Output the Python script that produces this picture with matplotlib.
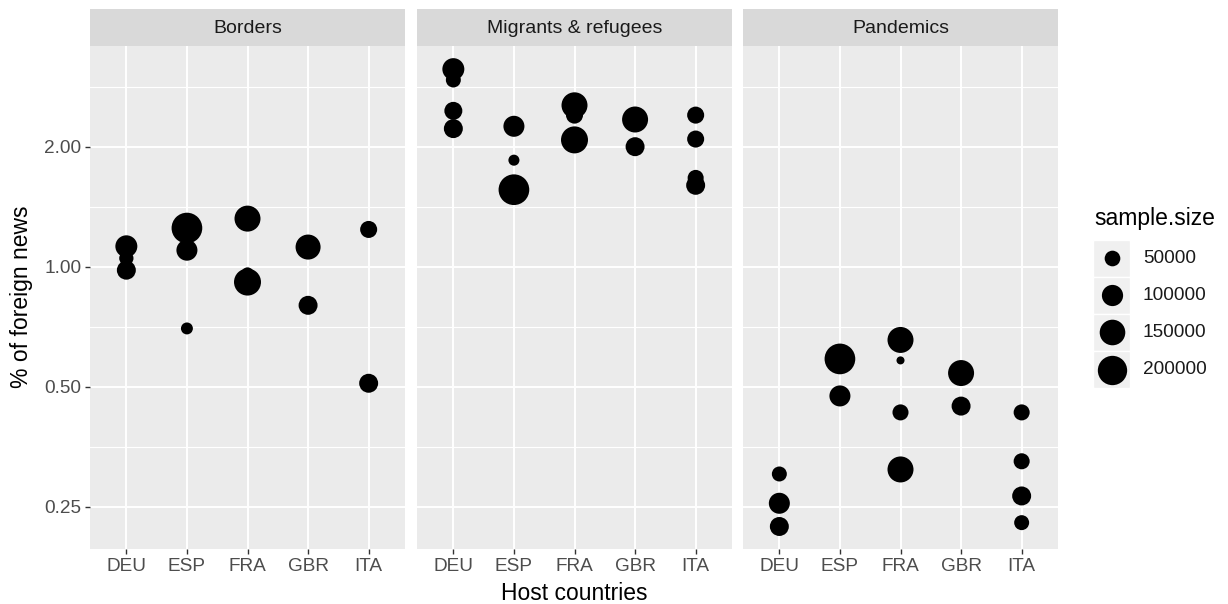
import numpy as np
import matplotlib
matplotlib.use("Agg")
from matplotlib import pyplot as plt
from matplotlib.patches import Rectangle

plt.rcParams['font.family'] = ['Liberation Sans', 'DejaVu Sans']

countries = ['DEU', 'ESP', 'FRA', 'GBR', 'ITA']
topics = ['Borders', 'Migrants & refugees', 'Pandemics']

borders_country = ['DEU', 'DEU', 'DEU', 'ESP', 'ESP', 'ESP', 'FRA', 'FRA', 'FRA', 'GBR', 'GBR', 'ITA', 'ITA']
borders_pct = [1.125, 1.05, 0.98, 1.25, 1.10, 0.70, 1.32, 0.96, 0.915, 1.12, 0.80, 1.24, 0.51]
borders_size = [108000, 40000, 78000, 220000, 98000, 25000, 155000, 30000, 168000, 143000, 78000, 61000, 78000]

migrants_country = ['DEU', 'DEU', 'DEU', 'DEU', 'ESP', 'ESP', 'ESP', 'FRA', 'FRA', 'FRA',
                    'GBR', 'GBR', 'ITA', 'ITA', 'ITA', 'ITA']
migrants_pct = [3.13, 2.94, 2.46, 2.22, 2.25, 1.85, 1.56, 2.54, 2.40, 2.08, 2.34, 2.00, 2.40, 2.09, 1.67, 1.60]
migrants_size = [108000, 45000, 69000, 78000, 98000, 20000, 220000, 155000, 61000, 168000,
                 155000, 78000, 61000, 61000, 53000, 78000]

pandemics_country = ['DEU', 'DEU', 'DEU', 'ESP', 'ESP', 'FRA', 'FRA', 'FRA', 'FRA', 'GBR', 'GBR',
                     'ITA', 'ITA', 'ITA', 'ITA']
pandemics_pct = [0.302, 0.255, 0.223, 0.587, 0.474, 0.655, 0.582, 0.431, 0.31, 0.541, 0.447,
                 0.431, 0.325, 0.266, 0.228]
pandemics_size = [45000, 98000, 78000, 220000, 98000, 155000, 6000, 53000, 155000, 155000, 78000,
                  53000, 53000, 78000, 45000]

y_breaks = [0.25, 0.5, 1.0, 2.0]
legend_sizes = [50000, 100000, 150000, 200000]

W, H = 1228, 604
BG = '#EBEBEB'


def marker_area(v):
    # diameter^2 in px grows linearly with sample size, converted to points^2
    d2 = 40 + 0.0041 * np.asarray(v, dtype=float)
    return d2 * (72 / 100) ** 2


def px_axes(fig, x0, y0, x1, y1):
    return fig.add_axes([x0 / W, 1 - y1 / H, (x1 - x0) / W, (y1 - y0) / H])


fig = plt.figure(figsize=(W / 100, H / 100), dpi=100)

panels = [(90, 405), (417, 732), (743, 1058)]
data = [(borders_country, borders_pct, borders_size),
        (migrants_country, migrants_pct, migrants_size),
        (pandemics_country, pandemics_pct, pandemics_size)]
top, bottom, strip_top = 46, 549, 9

ylo, yhi = 2 ** -2.3525, 2 ** 1.839
minor = [np.sqrt(a * b) for a, b in zip(y_breaks[:-1], y_breaks[1:])] + [2.0 * np.sqrt(2)]

for i, ((x0, x1), title, (cty, pct, size)) in enumerate(zip(panels, topics, data)):
    ax = px_axes(fig, x0, top, x1, bottom)
    ax.set_facecolor(BG)
    ax.set_yscale('log')
    ax.set_ylim(ylo, yhi)
    ax.set_xlim(0.4, 5.6)
    for m in minor:
        ax.axhline(m, color='white', lw=0.8, zorder=0)
    for b in y_breaks:
        ax.axhline(b, color='white', lw=1.4, zorder=0)
    for k in range(len(countries)):
        ax.axvline(k + 1, color='white', lw=1.4, zorder=0)
    xs = [countries.index(c) + 1 for c in cty]
    ax.scatter(xs, pct, s=marker_area(size), c='black', linewidths=0, zorder=3)
    ax.set_xticks(range(1, len(countries) + 1))
    ax.set_xticklabels(countries)
    ax.yaxis.set_minor_locator(matplotlib.ticker.NullLocator())
    ax.set_yticks(y_breaks)
    ax.tick_params(length=3.8, width=1.0, color='#333333', labelcolor='#4D4D4D',
                   labelsize=13.7, pad=2.5)
    if i == 0:
        ax.set_yticklabels([f'{b:.2f}' for b in y_breaks])
    else:
        ax.set_yticklabels([])
        ax.tick_params(axis='y', length=0)
    for sp in ax.spines.values():
        sp.set_visible(False)

    sax = px_axes(fig, x0, strip_top, x1, top)
    sax.set_facecolor('#D9D9D9')
    sax.set_xticks([])
    sax.set_yticks([])
    for sp in sax.spines.values():
        sp.set_visible(False)
    sax.text(0.5, 0.47, title, ha='center', va='center', fontsize=14, color='#1A1A1A',
             transform=sax.transAxes)

fig.text(574 / W, 1 - 593 / H, 'Host countries', ha='center', va='center', fontsize=16.5)
fig.text(22 / W, 1 - 297 / H, '% of foreign news', ha='center', va='center', fontsize=16.5,
         rotation=90)

# legend
fig.text(1094 / W, 1 - 218 / H, 'sample.size', ha='left', va='center', fontsize=16.5)
lax = px_axes(fig, 1093, 240, 1130, 388)
lax.set_xlim(0, 1)
lax.set_ylim(len(legend_sizes), 0)
lax.axis('off')
for k, v in enumerate(legend_sizes):
    lax.add_patch(Rectangle((0, k), 1, 1, facecolor='#F0F0F0', edgecolor='white', lw=1))
    lax.scatter([0.5], [k + 0.5], s=marker_area(v), c='black', linewidths=0, zorder=3)
    fig.text(1143 / W, 1 - (240 + 37 * (k + 0.5)) / H, str(v), ha='left', va='center',
             fontsize=13.7, color='#1A1A1A')

fig.savefig('out.png', dpi=100)
